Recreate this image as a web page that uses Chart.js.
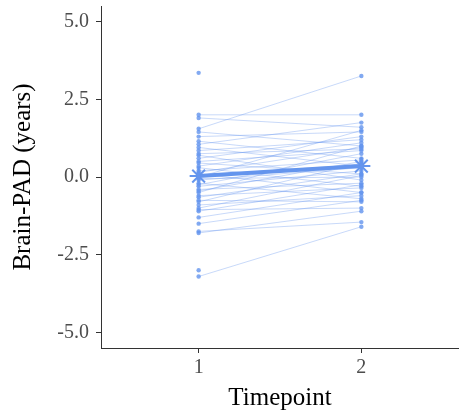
<!DOCTYPE html>
<html>
<head>
<meta charset="utf-8">
<script src="https://cdn.jsdelivr.net/npm/chart.js@4/dist/chart.umd.min.js"></script>
<style>
html, body { margin: 0; padding: 0; background: #fff; }
#wrap { width: 459px; height: 417px; }
</style>
</head>
<body>
<div id="wrap"><canvas id="chart" width="459" height="417"></canvas></div>
<script>
// brain-PAD per subject, timepoint 1 and 2 (null = no second scan)
var brainPadT1 = [3.35, 2.0, 1.9, 1.55, 1.45, 1.3, 1.15, 1.05, 0.95, 0.85, 0.75, 0.7, 0.6, 0.5, 0.45,
    0.35, 0.3, 0.2, 0.15, 0.1, 0.05, 0.0, -0.05, -0.1, -0.2, -0.25, -0.3, -0.4, -0.45, -0.5,
    -0.6, -0.65, -0.75, -0.8, -0.9, -1.0, -1.05, -1.1, -1.3, -1.5, -1.75, -1.8, -3.0, -3.2];
var brainPadT2 = [null, 2.0, 1.6, 3.25, 1.0, 1.45, 0.6, 1.75, 0.35, 1.2, 0.9, -0.1, 1.3, 0.85, 0.1,
    1.1, -0.3, 0.55, 0.95, -0.5, 0.4, 1.5, 0.0, 0.3, -0.7, 0.75, 0.2, -0.2, 0.5, 1.0,
    -0.35, 0.1, -0.8, 0.45, -0.6, 0.05, -1.0, -0.25, -0.5, -0.75, -1.45, -1.1, null, -1.6];
var meanPad = [0.03, 0.35];
var timepoints = [1, 2];
var yTicks = [-5, -2.5, 0, 2.5, 5];

var blue = '#6495ED';
var serif = "'Liberation Serif', 'DejaVu Serif', serif";

function build_chart() {
    var ctx = document.getElementById("chart").getContext("2d");
    var ds = [];
    for (var i = 0; i < brainPadT1.length; i++) {
        var pts = [{x: timepoints[0], y: brainPadT1[i]}];
        if (brainPadT2[i] !== null) pts.push({x: timepoints[1], y: brainPadT2[i]});
        ds.push({
            data: pts,
            showLine: true,
            borderColor: 'rgba(100,149,237,0.45)',
            borderWidth: 0.8,
            pointRadius: 2.2,
            pointBorderWidth: 0,
            pointBackgroundColor: 'rgba(100,149,237,0.8)'
        });
    }
    ds.push({
        data: [{x: timepoints[0], y: meanPad[0]}, {x: timepoints[1], y: meanPad[1]}],
        showLine: true,
        borderColor: blue,
        borderWidth: 4,
        pointStyle: 'star',
        pointRadius: 9,
        pointBorderWidth: 2,
        pointBorderColor: blue,
        pointBackgroundColor: blue
    });

    var config = {
        type: 'scatter',
        data: { datasets: ds },
        options: {
            responsive: false,
            animation: false,
            layout: { autoPadding: false, padding: { top: 6, right: 0, left: 0, bottom: 0 } },
            plugins: { legend: { display: false }, tooltip: { enabled: false } },
            scales: {
                x: {
                    type: 'linear', min: 0.4, max: 2.6,
                    afterBuildTicks: function(s) { s.ticks = timepoints.map(function(v) { return {value: v}; }); },
                    afterFit: function(s) { s.height = 69; s.paddingLeft = 0; s.paddingRight = 0; },
                    grid: { drawOnChartArea: false, drawTicks: true, tickLength: 5, tickColor: '#333', tickWidth: 1 },
                    border: { display: true, color: '#333', width: 1 },
                    ticks: { color: '#4d4d4d', font: { family: serif, size: 20 }, padding: 3 },
                    title: { display: true, text: 'Timepoint', color: '#000', font: { family: serif, size: 25 }, padding: { top: 2 } }
                },
                y: {
                    min: -5.5, max: 5.5,
                    afterBuildTicks: function(s) { s.ticks = yTicks.map(function(v) { return {value: v}; }); },
                    afterFit: function(s) { s.width = 101; s.paddingTop = 0; s.paddingBottom = 0; },
                    grid: { drawOnChartArea: false, drawTicks: true, tickLength: 5, tickColor: '#333', tickWidth: 1 },
                    border: { display: true, color: '#333', width: 1 },
                    ticks: { color: '#4d4d4d', font: { family: serif, size: 20 }, padding: 7,
                        callback: function(v) { return v.toFixed(1); } },
                    title: { display: true, text: 'Brain-PAD (years)', color: '#000', font: { family: serif, size: 25 }, padding: { top: 8, bottom: 0 } }
                }
            }
        }
    };
    window.myChart = new Chart(ctx, config);
}

window.onload = function() {
    build_chart();
};
</script>
</body>
</html>
